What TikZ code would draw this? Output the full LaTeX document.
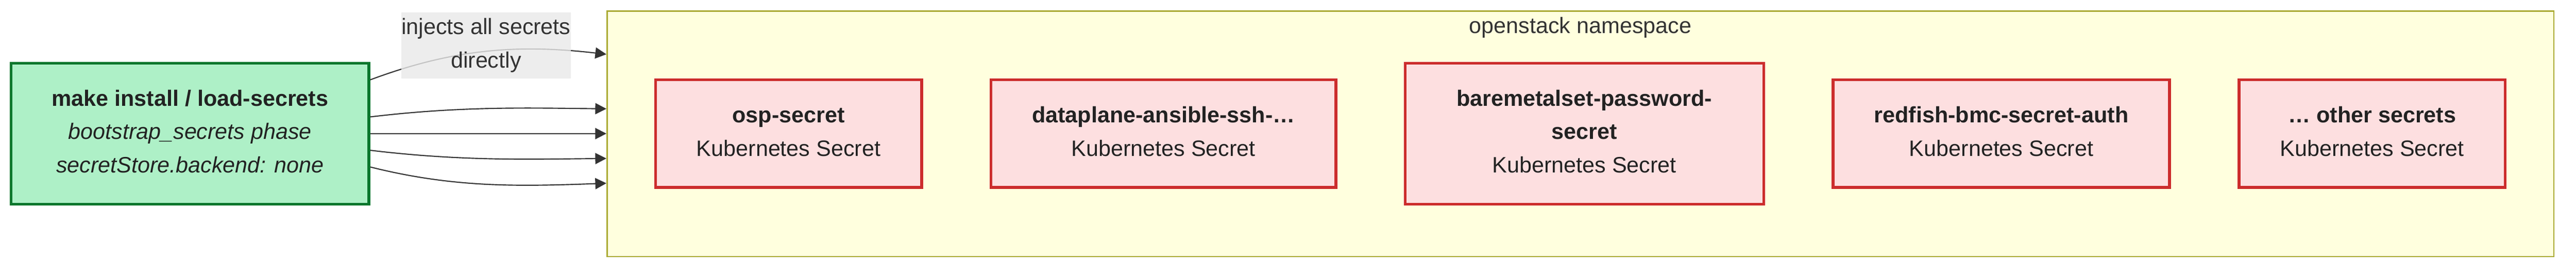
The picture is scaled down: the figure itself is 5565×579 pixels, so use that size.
\documentclass[tikz,border=0pt]{standalone}
\usepackage{fontspec}
\setmainfont{Liberation Sans}
\usetikzlibrary{arrows.meta,calc}
\definecolor{greenfill}{RGB}{174,240,199}
\definecolor{greenline}{RGB}{11,119,45}
\definecolor{redfill}{RGB}{253,223,224}
\definecolor{redline}{RGB}{204,45,45}
\definecolor{nsfill}{RGB}{255,255,222}
\definecolor{nsline}{RGB}{170,170,51}
\definecolor{lblfill}{RGB}{232,232,232}
\definecolor{txtdark}{RGB}{34,34,34}
\definecolor{txtgray}{RGB}{51,51,51}
\definecolor{edgecol}{RGB}{51,51,51}
\newcommand{\lnstrut}{\rule[-11pt]{0pt}{47pt}}
\tikzset{
  basefont/.style={font=\fontsize{48}{72}\selectfont},
  boxtext/.style={basefont, align=center, inner sep=0pt},
  greenbox/.style={boxtext, rectangle, draw=greenline, fill=greenfill, line width=6pt, text=txtdark},
  secretbox/.style={boxtext, rectangle, draw=redline, fill=redfill, line width=6pt, text=txtdark},
  nsbox/.style={rectangle, draw=nsline, fill=nsfill, line width=3pt, inner sep=0pt},
  edgelabel/.style={boxtext, rectangle, fill=lblfill, fill opacity=0.8, text opacity=1, text=txtgray},
  link/.style={draw=edgecol, line width=2.4pt, -{Triangle[length=24pt,width=24pt]}},
}
\begin{document}
\begin{tikzpicture}[x=1pt,y=-1pt]
\useasboundingbox (0,0) rectangle (5565,579);
% namespace cluster
\node[nsbox, minimum width=4205.5pt, minimum height=529pt] (ns) at (3414.25,288.5) {};
\node[basefont, anchor=base, text=txtgray, inner sep=0pt] (nstitle) at (3414.25,72) {openstack namespace};
% source
\node[greenbox, minimum width=773pt, minimum height=304pt] (src) at (410.5,288)
  {\lnstrut\textbf{make install / load-secrets}\\\textit{bootstrap\_secrets phase}\\\lnstrut\textit{secretStore.backend: none}};
% secrets
\node[secretbox, minimum width=575pt, minimum height=232pt] (osp) at (1703.5,288)
  {\lnstrut\textbf{osp-secret}\\\lnstrut Kubernetes Secret};
\node[secretbox, minimum width=745pt, minimum height=232pt] (dp) at (2513.5,288)
  {\lnstrut\textbf{dataplane-ansible-ssh-…}\\\lnstrut Kubernetes Secret};
\node[secretbox, minimum width=774.5pt, minimum height=304pt] (bm) at (3422.75,288)
  {\lnstrut\textbf{baremetalset-password-}\\\textbf{secret}\\\lnstrut Kubernetes Secret};
\node[secretbox, minimum width=727pt, minimum height=232pt] (rf) at (4323.5,288)
  {\lnstrut\textbf{redfish-bmc-secret-auth}\\\lnstrut Kubernetes Secret};
\node[secretbox, minimum width=575pt, minimum height=232pt] (oth) at (5124.5,288)
  {\lnstrut\textbf{… other secrets}\\\lnstrut Kubernetes Secret};
% connectors
\coordinate (s1) at ($(src.east)+(0,-116)$);
\coordinate (s2) at ($(src.east)+(0,-36)$);
\coordinate (s3) at (src.east);
\coordinate (s4) at ($(src.east)+(0,36)$);
\coordinate (s5) at ($(src.east)+(0,72)$);
\coordinate (e1) at (ns.west |- 0,117);
\coordinate (e2) at (ns.west |- 0,234.5);
\coordinate (e3) at (ns.west |- 0,288);
\coordinate (e4) at (ns.west |- 0,341.6);
\coordinate (e5) at (ns.west |- 0,395);
\draw[link] (s1) .. controls ($(s1)+(180,-67)$) and ($(e1)+(-191,-22)$) .. (e1);
\draw[link] (s2) .. controls ($(s2)+(200,-24)$) and ($(e2)+(-161,-1.5)$) .. (e2);
\draw[link] (s3) -- (e3);
\draw[link] (s4) .. controls ($(s4)+(200,24)$) and ($(e4)+(-161,1.5)$) .. (e4);
\draw[link] (s5) .. controls ($(s5)+(180,45)$) and ($(e5)+(-191,7)$) .. (e5);
% edge label
\node[edgelabel, minimum width=364pt, minimum height=142pt] (lbl) at (1050,98)
  {\lnstrut injects all secrets\\\lnstrut directly};
\end{tikzpicture}
\end{document}
